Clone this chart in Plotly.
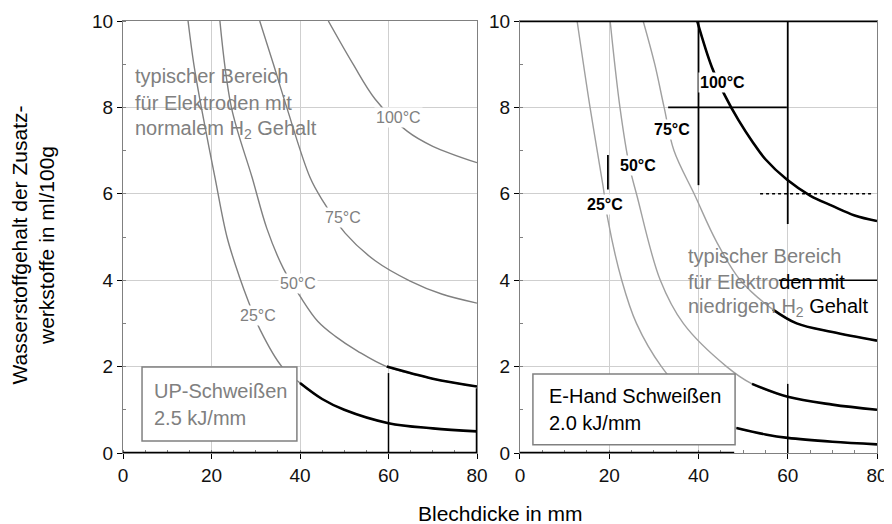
import plotly.graph_objects as go

# ---------------- data ----------------
# left panel: UP-Schweißen 2.5 kJ/mm
L25_x = [14.7, 16.0, 17.7, 20.8, 23.5, 26.4, 28.3, 31.0, 35.9, 40.0, 45.0, 50.0, 60.0, 70.0, 80.0]
L25_y = [10.0, 9.0, 8.0, 6.37, 5.0, 4.05, 3.52, 2.85, 2.0, 1.62, 1.25, 1.0, 0.69, 0.57, 0.5]
L50_x = [21.9, 24.5, 29.2, 32.5, 36.2, 40.0, 44.0, 48.0, 53.0, 59.6, 70.0, 80.0]
L50_y = [10.0, 8.0, 6.37, 5.2, 4.28, 3.63, 3.05, 2.7, 2.36, 2.0, 1.72, 1.54]
L75_x = [30.9, 34.0, 37.0, 42.3, 45.2, 50.2, 57.0, 64.9, 72.0, 80.0]
L75_y = [10.0, 9.0, 8.0, 6.37, 5.83, 5.09, 4.45, 3.98, 3.68, 3.47]
L100_x = [46.4, 52.0, 57.0, 64.2, 70.0, 80.0]
L100_y = [10.0, 9.0, 8.19, 7.45, 7.1, 6.72]
# dark (emphasised) parts start at these thicknesses
L_dark_from = {"25": 40.0, "50": 59.6}

# right panel: E-Hand Schweißen 2.0 kJ/mm
R25_x = [12.8, 15.7, 18.6, 19.7, 22.8, 26.1, 31.7, 40.0, 48.5, 55.0, 60.0, 70.0, 80.0]
R25_y = [10.0, 8.0, 6.19, 5.4, 4.0, 3.0, 2.0, 1.05, 0.58, 0.43, 0.35, 0.26, 0.2]
R50_x = [20.2, 22.4, 24.5, 26.2, 31.4, 36.6, 46.3, 52.0, 60.0, 70.0, 80.0]
R50_y = [10.0, 8.0, 6.65, 5.96, 4.01, 3.0, 2.0, 1.6, 1.3, 1.12, 1.0]
R75_x = [27.6, 30.2, 32.3, 34.5, 39.2, 44.0, 49.3, 56.7, 62.0, 70.0, 80.0]
R75_y = [10.0, 9.0, 8.0, 7.0, 5.96, 4.9, 4.01, 3.32, 3.0, 2.8, 2.6]
R100_x = [39.7, 43.0, 45.9, 49.0, 52.2, 55.0, 59.8, 65.0, 70.0, 75.0, 80.0]
R100_y = [10.0, 8.93, 8.28, 7.7, 7.19, 6.8, 6.33, 5.96, 5.72, 5.5, 5.37]
R_dark_from = {"25": 48.5, "50": 52.0, "75": 56.7, "100": 0.0}

# curve labels (temperature, x, y)
L_labels = [("100°C", 62.3, 7.76), ("75°C", 49.7, 5.44), ("50°C", 39.6, 3.93), ("25°C", 30.5, 3.19)]
R_labels = [("100°C", 45.3, 8.58), ("75°C", 34.0, 7.5), ("50°C", 26.4, 6.65), ("25°C", 19.0, 5.75)]

x_ticks = [0, 20, 40, 60, 80]
y_ticks = [0, 2, 4, 6, 8, 10]

GRAY = "#808080"
LGRAY = "#a0a0a0"
FONT = "Liberation Sans, Arial, sans-serif"

fig = go.Figure()


def add_curve(xs, ys, dark_from, xa, ya, gray):
    fig.add_trace(go.Scatter(x=xs, y=ys, mode="lines", xaxis=xa, yaxis=ya,
                             line=dict(color=gray, width=1.4, shape="spline", smoothing=1.0),
                             hoverinfo="skip", showlegend=False))
    if dark_from is not None:
        dx = [x for x in xs if x >= dark_from]
        dy = [y for x, y in zip(xs, ys) if x >= dark_from]
        fig.add_trace(go.Scatter(x=dx, y=dy, mode="lines", xaxis=xa, yaxis=ya,
                                 line=dict(color="black", width=2.6, shape="spline", smoothing=1.0),
                                 hoverinfo="skip", showlegend=False))


add_curve(L25_x, L25_y, L_dark_from["25"], "x", "y", GRAY)
add_curve(L50_x, L50_y, L_dark_from["50"], "x", "y", GRAY)
add_curve(L75_x, L75_y, None, "x", "y", GRAY)
add_curve(L100_x, L100_y, None, "x", "y", GRAY)
add_curve(R25_x, R25_y, R_dark_from["25"], "x2", "y2", LGRAY)
add_curve(R50_x, R50_y, R_dark_from["50"], "x2", "y2", LGRAY)
add_curve(R75_x, R75_y, R_dark_from["75"], "x2", "y2", LGRAY)
add_curve(R100_x, R100_y, R_dark_from["100"], "x2", "y2", LGRAY)

ann = []
for t, x, y in L_labels:
    ann.append(dict(x=x, y=y, xref="x", yref="y", text=t, showarrow=False,
                    font=dict(family=FONT, size=16, color=GRAY), bgcolor="white"))
for t, x, y in R_labels:
    ann.append(dict(x=x, y=y, xref="x2", yref="y2", text="<b>" + t + "</b>", showarrow=False,
                    font=dict(family=FONT, size=16, color="black"), bgcolor="white"))

# region texts
for i, line in enumerate(["typischer Bereich", "für Elektroden mit", "normalem H<sub>2</sub> Gehalt"]):
    ann.append(dict(x=2.2, y=8.73 - i * 0.62, xref="x", yref="y", text=line, showarrow=False,
                    xanchor="left", font=dict(family=FONT, size=20, color=GRAY)))
for i, line in enumerate(["typischer Bereich",
                          "für Elektro<span style='color:black'>den mit</span>",
                          "niedrigem H<sub>2</sub> <span style='color:black'>Gehalt</span>"]):
    ann.append(dict(x=37.3, y=4.56 - i * 0.6, xref="x2", yref="y2", text=line, showarrow=False,
                    xanchor="left", font=dict(family=FONT, size=20, color=GRAY)))

# process boxes
ann.append(dict(x=6.6, y=1.43, xref="x", yref="y", text="UP-Schweißen", showarrow=False,
                xanchor="left", font=dict(family=FONT, size=20, color=GRAY)))
ann.append(dict(x=6.6, y=0.81, xref="x", yref="y", text="2.5 kJ/mm", showarrow=False,
                xanchor="left", font=dict(family=FONT, size=20, color=GRAY)))
ann.append(dict(x=6.1, y=1.32, xref="x2", yref="y2", text="E-Hand Schweißen", showarrow=False,
                xanchor="left", font=dict(family=FONT, size=20, color="black")))
ann.append(dict(x=6.1, y=0.70, xref="x2", yref="y2", text="2.0 kJ/mm", showarrow=False,
                xanchor="left", font=dict(family=FONT, size=20, color="black")))

# axis titles
ann.append(dict(x=-0.119, y=0.481, xref="paper", yref="paper", xanchor="center", yanchor="middle",
                text="Wasserstoffgehalt der Zusatz-<br>werkstoffe in ml/100g",
                textangle=-90, showarrow=False, font=dict(family=FONT, size=21, color="black")))
ann.append(dict(x=0.5, y=-0.139, xref="paper", yref="paper", text="Blechdicke in mm",
                showarrow=False, xanchor="center", yanchor="middle",
                font=dict(family=FONT, size=21, color="black")))

shapes = [
    dict(type="rect", xref="x", yref="y", x0=4.3, x1=39.3, y0=0.28, y1=1.99,
         line=dict(color=GRAY, width=1.5), fillcolor="white", layer="above"),
    dict(type="rect", xref="x2", yref="y2", x0=2.9, x1=48.2, y0=0.19, y1=1.83,
         line=dict(color=GRAY, width=1.5), fillcolor="white", layer="above"),
    # emphasised frame / grid pieces
    dict(type="line", xref="x", yref="y", x0=60, x1=60, y0=0, y1=1.85, line=dict(color="black", width=1.5)),
    dict(type="line", xref="x", yref="y", x0=80, x1=80, y0=0, y1=1.5, line=dict(color="black", width=2.5)),
    dict(type="line", xref="x", yref="y", x0=0, x1=80, y0=0, y1=0, line=dict(color="black", width=2.5)),
    dict(type="line", xref="x2", yref="y2", x0=0, x1=80, y0=10, y1=10, line=dict(color="black", width=2.5)),
    dict(type="line", xref="x2", yref="y2", x0=0, x1=48, y0=0, y1=0, line=dict(color="black", width=2.5)),
    dict(type="line", xref="x2", yref="y2", x0=40, x1=40, y0=6.2, y1=10, line=dict(color="black", width=1.8)),
    dict(type="line", xref="x2", yref="y2", x0=33.2, x1=59.8, y0=8, y1=8, line=dict(color="black", width=1.8)),
    dict(type="line", xref="x2", yref="y2", x0=60, x1=60, y0=5.3, y1=10, line=dict(color="black", width=1.8)),
    dict(type="line", xref="x2", yref="y2", x0=53.8, x1=79, y0=6, y1=6, line=dict(color="black", width=1.5, dash="dot")),
    dict(type="line", xref="x2", yref="y2", x0=58, x1=80, y0=4, y1=4, line=dict(color="black", width=1.5)),
    dict(type="line", xref="x2", yref="y2", x0=19.7, x1=19.7, y0=6.1, y1=6.9, line=dict(color="black", width=1.8)),
    dict(type="line", xref="x2", yref="y2", x0=60, x1=60, y0=0, y1=1.6, line=dict(color="black", width=1.5)),
]

axis_common = dict(range=[0, 80], tickvals=x_ticks, showgrid=True, gridcolor="#cfcfcf", gridwidth=1,
                   zeroline=False, showline=True, linecolor=GRAY, linewidth=1.2, mirror=True,
                   ticks="outside", ticklen=5, tickcolor="black", automargin=False,
                   tickfont=dict(family=FONT, size=19, color="#111111"),
                   minor=dict(dtick=5, ticks="inside", ticklen=3, tickcolor=GRAY, showgrid=False))
yaxis_common = dict(range=[0, 10], tickvals=y_ticks, showgrid=True, gridcolor="#cfcfcf", gridwidth=1,
                    zeroline=False, showline=True, linecolor=GRAY, linewidth=1.2, mirror=True,
                    ticks="outside", ticklen=5, tickcolor="black", automargin=False,
                    tickfont=dict(family=FONT, size=19, color="#111111"),
                    minor=dict(dtick=1, ticks="inside", ticklen=3, tickcolor=GRAY, showgrid=False))

fig.update_layout(
    width=892, height=524,
    margin=dict(l=115, r=23, t=13, b=79),
    paper_bgcolor="white", plot_bgcolor="white",
    xaxis=dict(domain=[0, 0.4695], anchor="y", **axis_common),
    yaxis=dict(domain=[0, 1], anchor="x", **yaxis_common),
    xaxis2=dict(domain=[0.5265, 1.0], anchor="y2", **axis_common),
    yaxis2=dict(domain=[0, 1], anchor="x2", **yaxis_common),
    annotations=ann, shapes=shapes, showlegend=False,
)

fig.write_html("out.html")
